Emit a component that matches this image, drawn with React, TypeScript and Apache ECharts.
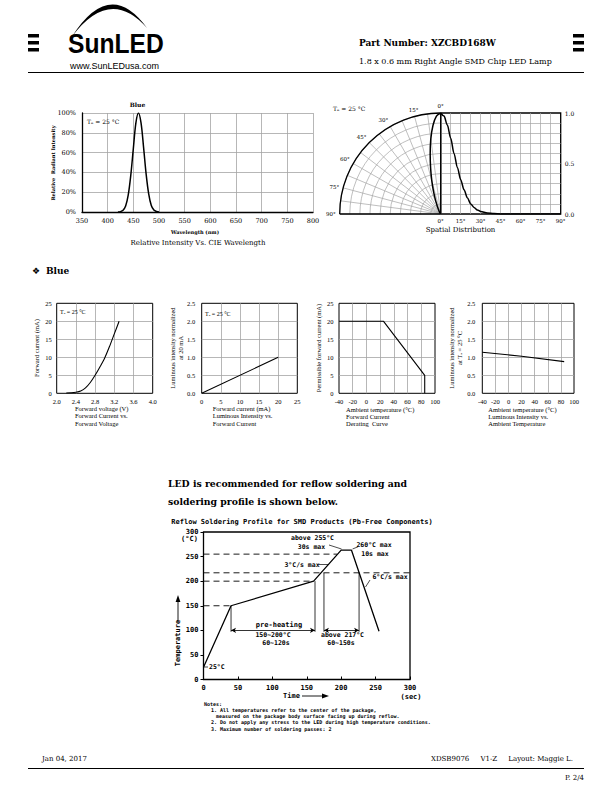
import { useEffect, useRef } from 'react';
import * as echarts from 'echarts';

const SERIF = '"DejaVu Serif", "Liberation Serif", serif';
const TSERIF = '"Liberation Serif", "DejaVu Serif", serif';
const MONO = '"DejaVu Sans Mono", "Liberation Mono", monospace';
const SANS = '"Liberation Sans", Arial, sans-serif';
const GRAY = '#a4a4a4';

// ---------- data ----------
const specWavelength = [420, 425, 430, 435, 440, 445, 450, 455, 460, 465, 470, 475, 480, 485, 490, 495, 500];
const specRelIntensity = [0, 0.004, 0.018, 0.06, 0.17, 0.37, 0.64, 0.9, 1.0, 0.9, 0.65, 0.38, 0.18, 0.065, 0.02, 0.005, 0];

const spatialAngle = [0, 2.5, 5, 7.5, 10, 12.5, 15, 17.5, 20, 22.5, 25, 27.5, 30, 35, 40, 45, 60, 75, 90];
const spatialRelIntensity = [1.0, 0.97, 0.88, 0.75, 0.6, 0.46, 0.34, 0.24, 0.16, 0.1, 0.065, 0.04, 0.025, 0.01, 0.004, 0.001, 0, 0, 0];

const ivVoltage = [2.2, 2.3, 2.4, 2.5, 2.6, 2.7, 2.8, 2.9, 3.0, 3.1, 3.2, 3.3];
const ivCurrent = [0.1, 0.15, 0.3, 0.65, 1.5, 3.0, 5.0, 7.3, 9.8, 13.0, 16.5, 20.0];

const liCurrent = [0, 20];
const liIntensity = [0, 1.0];

const derateTemp = [-40, 25, 85, 85];
const derateCurrent = [20, 20, 5, 0];

const ltTemp = [-40, 20, 85];
const ltIntensity = [1.14, 1.03, 0.88];

const reflowTime = [0, 40, 160, 200, 215, 255];
const reflowTemp = [25, 150, 200, 263, 263, 98];
const refLevelTemp = [255, 217, 200, 150];
const refLevelEnd = [194, 300, 160, 40];
const zoneTime = [40, 162, 175, 226];
const zoneTop = [150, 200, 217, 217];
const zoneBottom = [97, 97, 97, 97];
const spanStart = [40, 175];
const spanEnd = [162, 226];
const spanTemp = 100;

echarts.graphic.registerShape(
  'sunArc',
  echarts.graphic.extendPath('M72 36.5 Q110 -23 147 28 Q110 -14 72 36.5 Z', {})
);

function txt(x: number, y: number, text: string, fontSize: number, o: any = {}) {
  return {
    type: 'text',
    x,
    y,
    z: 50,
    silent: true,
    rotation: o.rotation ?? 0,
    scaleX: o.scaleX ?? 1,
    style: {
      text,
      fill: '#000',
      fontSize,
      fontFamily: o.family ?? SERIF,
      fontWeight: o.bold ? 'bold' : 'normal',
      textAlign: o.align ?? 'left',
      textVerticalAlign: o.va ?? 'middle',
      align: o.align ?? 'left',
      verticalAlign: o.va ?? 'middle',
      lineHeight: o.lh,
    },
  };
}
function ln(x1: number, y1: number, x2: number, y2: number, w = 0.8) {
  return { type: 'line', z: 50, silent: true, shape: { x1, y1, x2, y2 }, style: { stroke: '#000', lineWidth: w } };
}
function poly(points: number[][]) {
  return { type: 'polygon', z: 50, silent: true, shape: { points }, style: { fill: '#000' } };
}
function rect(x: number, y: number, width: number, height: number) {
  return { type: 'rect', z: 50, silent: true, shape: { x, y, width, height }, style: { fill: '#000' } };
}

const lbl = (fontSize: number, fontFamily: string, margin: number, formatter?: any, bold = false) => ({
  show: true,
  fontSize,
  fontFamily,
  color: '#000',
  margin,
  formatter,
  fontWeight: bold ? 'bold' : 'normal',
});
const gsplit = { show: true, showMinLine: false, showMaxLine: false, lineStyle: { color: GRAY, width: 0.8 } };

function smallAxes(gi: number, xr: number[], yr: number[], xm: number, ym: number, xf?: any, yf?: any) {
  const x = {
    gridIndex: gi,
    type: 'value',
    min: xr[0],
    max: xr[1],
    interval: xr[2],
    axisLine: { show: false, onZero: false },
    axisTick: { show: false },
    splitLine: gsplit,
    axisLabel: lbl(6.5, TSERIF, xm, xf),
  };
  const y = {
    gridIndex: gi,
    type: 'value',
    min: yr[0],
    max: yr[1],
    interval: yr[2],
    axisLine: { show: false, onZero: false },
    axisTick: { show: false },
    splitLine: gsplit,
    axisLabel: lbl(6.5, TSERIF, ym, yf),
  };
  return [x, y];
}

function buildOption() {
  const f1 = (v: number) => v.toFixed(1);
  const A = smallAxes(2, [2.0, 4.0, 0.4], [0, 25, 5], 5, 5, f1);
  const B = smallAxes(3, [0, 25, 5], [0, 2.5, 0.5], 5, 6.5, undefined, f1);
  const C = smallAxes(4, [-40, 100, 20], [0, 25, 5], 5, 5.5);
  const D = smallAxes(5, [-40, 100, 20], [0, 2.5, 0.5], 5, 7, undefined, f1);

  const xAxis: any[] = [
    {
      gridIndex: 0, type: 'value', min: 350, max: 800, interval: 50,
      axisLine: { show: true, onZero: false, lineStyle: { color: '#000', width: 1.3 } },
      axisTick: { show: false },
      splitLine: { show: true, showMinLine: false, lineStyle: { color: GRAY, width: 0.8 } },
      axisLabel: lbl(6.5, SERIF, 5),
    },
    {
      gridIndex: 1, type: 'value', min: 0, max: 90, interval: 15,
      axisLine: { show: false, onZero: false },
      axisTick: { show: false },
      minorTick: { show: false, splitNumber: 2 },
      minorSplitLine: { show: true, lineStyle: { color: GRAY, width: 0.7 } },
      splitLine: { show: true, showMinLine: false, showMaxLine: false, lineStyle: { color: GRAY, width: 0.7 } },
      axisLabel: lbl(5.5, SERIF, 4, '{value}°'),
    },
    A[0], B[0], C[0], D[0],
    {
      gridIndex: 6, type: 'value', min: 0, max: 300, interval: 50,
      axisLine: { show: false, onZero: false },
      axisTick: { show: true, inside: true, length: 3, lineStyle: { color: '#000' } },
      splitLine: { show: false },
      axisLabel: lbl(7, MONO, 4.5, undefined, true),
    },
  ];
  const yAxis: any[] = [
    {
      gridIndex: 0, type: 'value', min: 0, max: 1, interval: 0.2,
      axisLine: { show: true, onZero: false, lineStyle: { color: '#000', width: 1.3 } },
      axisTick: { show: false },
      splitLine: { show: true, showMinLine: false, lineStyle: { color: GRAY, width: 0.8 } },
      axisLabel: lbl(6.5, SERIF, 6, (v: number) => Math.round(v * 100) + '%'),
    },
    {
      gridIndex: 1, type: 'value', position: 'right', min: 0, max: 1, interval: 0.5,
      axisLine: { show: false, onZero: false },
      axisTick: { show: false },
      minorTick: { show: false, splitNumber: 5 },
      minorSplitLine: { show: true, lineStyle: { color: GRAY, width: 0.7 } },
      splitLine: { show: true, showMinLine: false, showMaxLine: false, lineStyle: { color: GRAY, width: 0.7 } },
      axisLabel: lbl(6, SERIF, 4, f1),
    },
    A[1], B[1], C[1], D[1],
    {
      gridIndex: 6, type: 'value', min: 0, max: 300, interval: 50,
      axisLine: { show: false, onZero: false },
      axisTick: { show: true, inside: false, length: 3, lineStyle: { color: '#000' } },
      splitLine: { show: false },
      axisLabel: lbl(7, MONO, 5, undefined, true),
    },
  ];

  const boxed = (left: number, top: number, width: number, height: number, bw = 1) => ({
    left, top, width, height, show: true, borderColor: '#000', borderWidth: bw,
    backgroundColor: 'transparent', containLabel: false, outerBoundsMode: 'none',
  });

  const curve = { color: '#000', width: 1.5 };
  const baseLine = (xi: number, data: number[][], extra: any = {}) => ({
    type: 'line', xAxisIndex: xi, yAxisIndex: xi, data, showSymbol: false, symbol: 'none',
    silent: true, lineStyle: curve, ...extra,
  });

  const series: any[] = [
    baseLine(0, specWavelength.map((w, i) => [w, specRelIntensity[i]]), { smooth: 0.35 }),
    {
      type: 'line', coordinateSystem: 'polar', polarIndex: 0, showSymbol: false, symbol: 'none', silent: true,
      smooth: 0.3, lineStyle: curve,
      data: spatialAngle.map((a, i) => [spatialRelIntensity[i], a]),
    },
    baseLine(1, spatialAngle.map((a, i) => [a, spatialRelIntensity[i]]), { smooth: 0.3, smoothMonotone: 'x' }),
    baseLine(2, ivVoltage.map((v, i) => [v, ivCurrent[i]]), { smooth: 0.3, lineStyle: { color: '#000', width: 1.1 } }),
    baseLine(3, liCurrent.map((c, i) => [c, liIntensity[i]]), { lineStyle: { color: '#000', width: 1.1 } }),
    baseLine(4, derateTemp.map((t, i) => [t, derateCurrent[i]]), { lineStyle: { color: '#000', width: 1.1 } }),
    baseLine(5, ltTemp.map((t, i) => [t, ltIntensity[i]]), { lineStyle: { color: '#000', width: 1.1 } }),
    baseLine(6, reflowTime.map((t, i) => [t, reflowTemp[i]]), {
      lineStyle: { color: '#000', width: 1.3 },
      markLine: {
        silent: true,
        symbol: ['arrow', 'arrow'],
        symbolSize: [4, 5],
        label: { show: false },
        lineStyle: { color: '#000', width: 0.8, type: 'solid' },
        data: spanStart.map((s, i) => [{ coord: [s, spanTemp] }, { coord: [spanEnd[i], spanTemp] }]),
      },
    }),
    ...refLevelTemp.map((T, i) =>
      baseLine(6, [[0, T], [refLevelEnd[i], T]], { lineStyle: { color: '#000', width: 0.9, type: [6, 4] } })
    ),
    ...zoneTime.map((t, i) =>
      baseLine(6, [[t, zoneTop[i]], [t, zoneBottom[i]]], { lineStyle: { color: '#000', width: 0.8 } })
    ),
  ];

  const graphics: any[] = [
    // header
    rect(28, 34, 11, 3.5), rect(28, 41, 11, 3.5), rect(28, 48, 11, 3.5),
    rect(573, 34, 11, 3.5), rect(573, 41, 11, 3.5), rect(573, 48, 11, 3.5),
    { type: 'sunArc', z: 50, silent: true, style: { fill: '#000' } },
    txt(68, 43, 'SunLED', 28, { family: SANS, bold: true, scaleX: 0.88 }),
    txt(70, 65.5, 'www.SunLEDusa.com', 9, { family: SANS }),
    txt(359, 43, 'Part Number: XZCBD168W', 9, { bold: true }),
    txt(359, 61, '1.8 x 0.6 mm Right Angle SMD Chip LED Lamp', 8),
    ln(28, 72.5, 584, 72.5, 1.2),
    // spectrum
    txt(137.5, 104, 'Blue', 6, { bold: true, align: 'center' }),
    txt(87, 121.5, 'Tₐ = 25 °C', 6),
    txt(195, 231.5, 'Wavelength (nm)', 5, { bold: true, align: 'center' }),
    txt(198, 243, 'Relative Intensity Vs. CIE Wavelength', 7, { align: 'center' }),
    txt(53, 163, 'Relative  Radiant Intensity', 5, { bold: true, align: 'center', rotation: Math.PI / 2 }),
    // spatial
    txt(333, 108, 'Tₐ = 25 °C', 6),
    txt(460.5, 229.5, 'Spatial Distribution', 7, { align: 'center' }),
    ln(339.7, 214, 440.7, 214, 1.3),
    ln(440.7, 113, 440.7, 214, 1.3),
    // section
    txt(36, 271, '❖', 9, { align: 'center', family: '"DejaVu Sans", sans-serif' }),
    txt(46, 271, 'Blue', 9, { bold: true }),
    // small charts
    txt(60, 311.7, 'Tₐ = 25 °C', 6, { family: TSERIF }),
    txt(205, 314.3, 'Tₐ = 25 °C', 6, { family: TSERIF }),
    txt(36, 348, 'Forward current (mA)', 6.5, { family: TSERIF, align: 'center', rotation: Math.PI / 2 }),
    txt(176, 348, 'Luminous intensity normalized\nat 20 mA', 6.5, { family: TSERIF, align: 'center', rotation: Math.PI / 2, lh: 8 }),
    txt(318.3, 348, 'Permissible forward current (mA)', 6.5, { family: TSERIF, align: 'center', rotation: Math.PI / 2 }),
    txt(455, 348, 'Luminous intensity normalized\nat Tₐ = 25 °C', 6.5, { family: TSERIF, align: 'center', rotation: Math.PI / 2, lh: 8 }),
    txt(75, 405, 'Forward voltage (V)\nForward Current vs.\nForward Voltage', 6.5, { family: TSERIF, va: 'top', lh: 7.2 }),
    txt(212.7, 405, 'Forward current (mA)\nLuminous Intensity vs.\nForward Current', 6.5, { family: TSERIF, va: 'top', lh: 7.2 }),
    txt(346, 405.5, 'Ambient temperature (°C)\nForward Current\nDerating  Curve', 6.5, { family: TSERIF, va: 'top', lh: 7.2 }),
    txt(488.3, 405.5, 'Ambient temperature (°C)\nLuminous Intensity vs.\nAmbient Temperature', 6.5, { family: TSERIF, va: 'top', lh: 7.2 }),
    // reflow heading
    txt(168, 483.5, 'LED is recommended for reflow soldering and', 9.3, { bold: true }),
    txt(168, 501.5, 'soldering profile is shown below.', 9.3, { bold: true }),
    txt(302, 521.5, 'Reflow Soldering Profile for SMD Products (Pb-Free Components)', 7, { family: MONO, bold: true, align: 'center' }),
    txt(189.5, 539, '(°C)', 7, { family: MONO, bold: true, align: 'center' }),
    txt(178, 643, 'Temperature', 7, { family: MONO, bold: true, align: 'center', rotation: Math.PI / 2 }),
    ln(178, 622, 178, 600, 0.9),
    poly([[175.6, 602], [178, 595], [180.4, 602]]),
    txt(283, 696, 'Time', 7, { family: MONO, bold: true }),
    ln(302, 696, 324, 696, 0.9),
    poly([[322, 693.6], [329, 696], [322, 698.4]]),
    txt(411, 696.5, '(sec)', 7, { family: MONO, bold: true, align: 'center' }),
    txt(312.5, 538, 'above 255°C', 6.5, { family: MONO, bold: true, align: 'center' }),
    txt(311.5, 547, '30s max', 6.5, { family: MONO, bold: true, align: 'center' }),
    ln(329, 545, 341.5, 549, 0.7),
    txt(374, 544.5, '260°C max', 6.5, { family: MONO, bold: true, align: 'center' }),
    txt(375, 553.5, '10s max', 6.5, { family: MONO, bold: true, align: 'center' }),
    ln(352.5, 549, 358, 546.8, 0.7),
    txt(302, 564.5, '3°C/s max', 6.5, { family: MONO, bold: true, align: 'center' }),
    ln(318.5, 564.5, 328.5, 564.5, 0.7),
    txt(390, 577, '6°C/s max', 6.5, { family: MONO, bold: true, align: 'center' }),
    ln(370, 580, 365.5, 587, 0.7),
    txt(279, 624.5, 'pre-heating', 7, { family: MONO, bold: true, align: 'center' }),
    txt(273, 634.5, '150~200°C', 6.5, { family: MONO, bold: true, align: 'center' }),
    txt(276, 643, '60~120s', 6.5, { family: MONO, bold: true, align: 'center' }),
    txt(342.5, 634.5, 'above 217°C', 6.5, { family: MONO, bold: true, align: 'center' }),
    txt(341, 643, '60~150s', 6.5, { family: MONO, bold: true, align: 'center' }),
    ln(204, 667, 208, 667, 0.7),
    txt(209, 667, '25°C', 6.5, { family: MONO, bold: true }),
    // notes
    txt(204, 703.5, 'Notes:', 5, { family: MONO, bold: true }),
    txt(211, 709.8, '1. All temperatures refer to the center of the package,', 5, { family: MONO, bold: true }),
    txt(216, 716, 'measured on the package body surface facing up during reflow.', 5, { family: MONO, bold: true }),
    txt(211, 722.3, '2. Do not apply any stress to the LED during high temperature conditions.', 5, { family: MONO, bold: true }),
    txt(211, 728.6, '3. Maximum number of soldering passes: 2', 5, { family: MONO, bold: true }),
    // footer
    txt(42, 758.5, 'Jan 04, 2017', 7),
    txt(573, 758.5, 'XDSB9076     V1-Z     Layout: Maggie L.', 7, { align: 'right' }),
    ln(28, 768.5, 584, 768.5, 1.2),
    txt(584, 777.5, 'P. 2/4', 7, { align: 'right' }),
  ];

  return {
    animation: false,
    backgroundColor: '#fff',
    grid: [
      { left: 82, top: 113, width: 231, height: 99, show: false, containLabel: false, outerBoundsMode: 'none' },
      boxed(440.7, 113, 120, 101, 1.3),
      boxed(56.7, 303.3, 96, 90),
      boxed(201.7, 303.3, 95.6, 90),
      boxed(339, 303.3, 96, 90),
      boxed(482.3, 303.3, 91.7, 90),
      boxed(203.5, 532, 206.5, 147.5, 1.3),
    ],
    polar: [{ center: [440.7, 214], radius: 101 }],
    angleAxis: [
      {
        polarIndex: 0, type: 'value', min: 0, max: 90, interval: 15,
        startAngle: 90, endAngle: 180, clockwise: false,
        axisLine: { show: true, lineStyle: { color: '#000', width: 1.3 } },
        axisTick: { show: false },
        axisLabel: lbl(5.5, SERIF, 4, '{value}°'),
        splitLine: { show: true, lineStyle: { color: GRAY, width: 0.7 } },
        minorTick: { show: false, splitNumber: 2 },
        minorSplitLine: { show: true, lineStyle: { color: GRAY, width: 0.7 } },
      },
    ],
    radiusAxis: [
      {
        polarIndex: 0, type: 'value', min: 0, max: 1, interval: 0.1,
        axisLine: { show: false }, axisTick: { show: false }, axisLabel: { show: false },
        splitLine: { show: true, lineStyle: { color: GRAY, width: 0.7 } },
      },
    ],
    xAxis,
    yAxis,
    series,
    graphic: { elements: graphics },
  };
}

export default function App() {
  const ref = useRef<HTMLDivElement>(null);
  useEffect(() => {
    if (!ref.current) return;
    const chart = echarts.init(ref.current, undefined, { renderer: 'svg', width: 612, height: 792 });
    chart.setOption(buildOption() as any);
    return () => chart.dispose();
  }, []);
  return (
    <div
      ref={ref}
      style={{ position: 'absolute', left: 0, top: 0, width: 612, height: 792, background: '#fff' }}
    />
  );
}
